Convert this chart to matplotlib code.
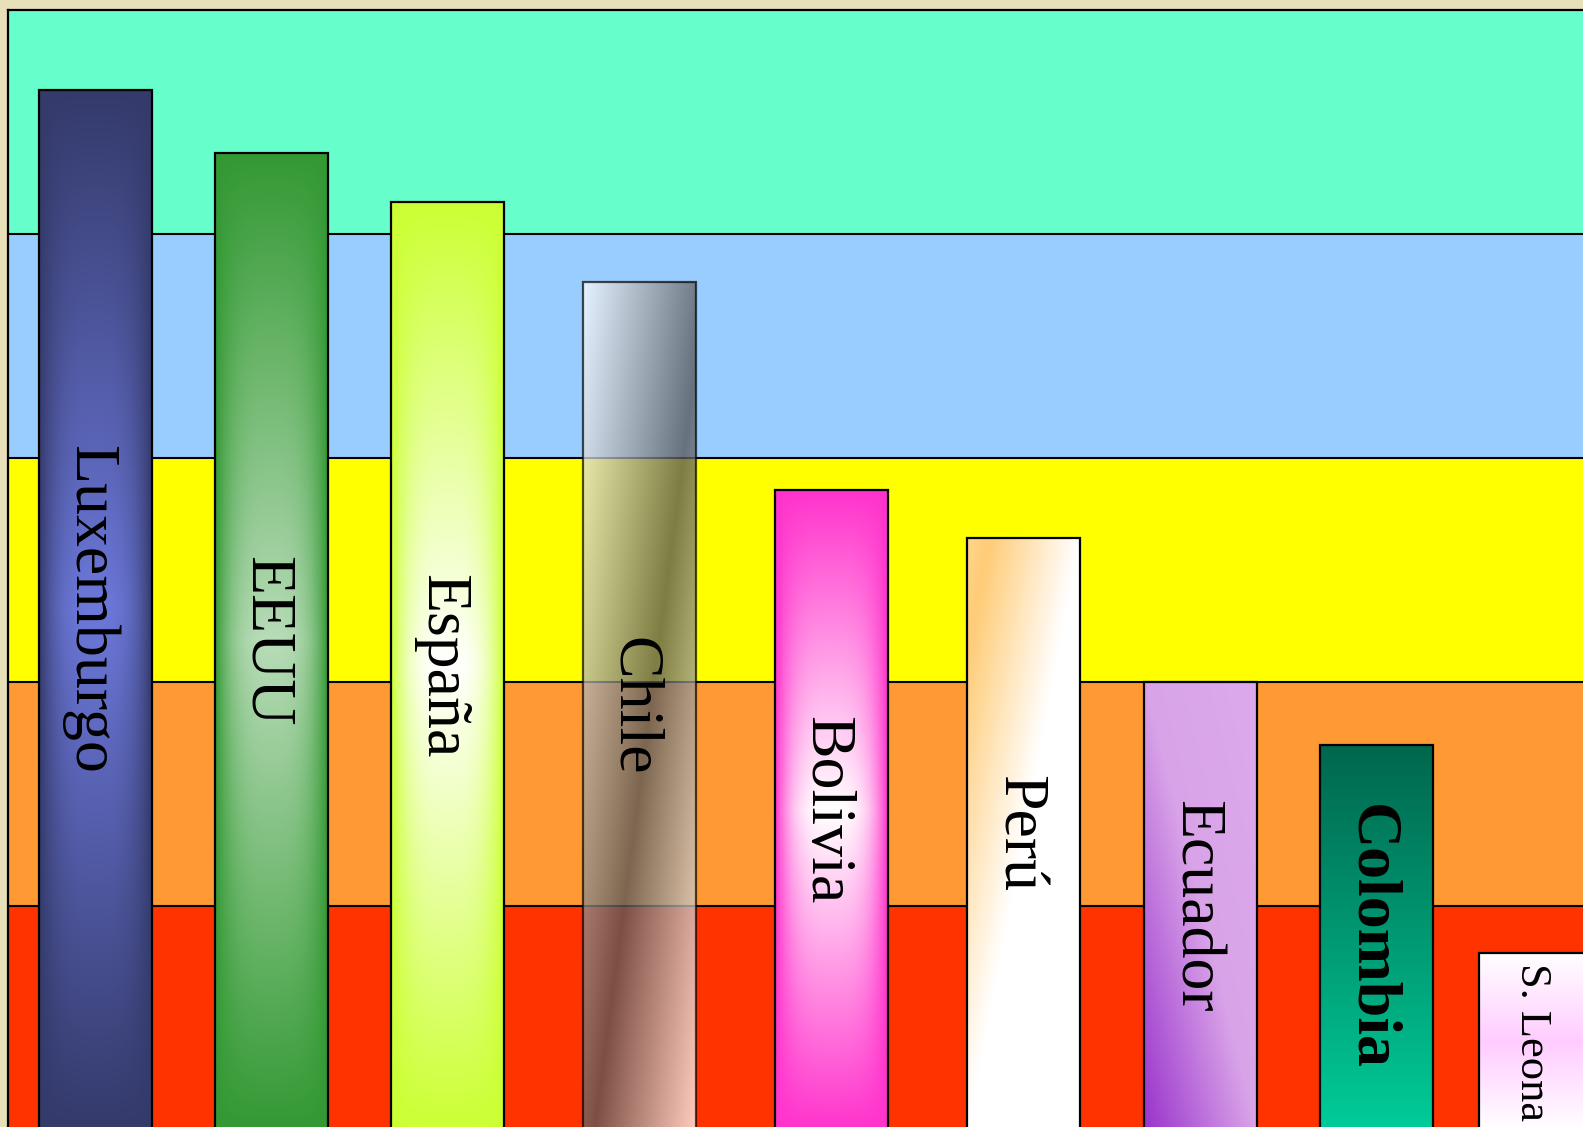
import numpy as np
import matplotlib
matplotlib.use('Agg')
import matplotlib.pyplot as plt
from matplotlib.colors import to_rgb
from matplotlib.transforms import offset_copy

# Datos
paises = ['Luxemburgo', 'EEUU', 'España', 'Chile', 'Bolivia', 'Perú', 'Ecuador', 'Colombia', 'S. Leona']
valores = [92.9, 87.2, 82.9, 75.7, 57.1, 52.9, 40.0, 34.4, 15.8]

# Franjas de fondo (de abajo hacia arriba)
franjas = [0, 20, 40, 60, 80, 100]
colores_franja = ['#ff3300', '#ff9933', '#ffff00', '#99ccff', '#66ffcc']

# Posición horizontal de cada barra (unidades del eje)
bar_x = [87.5, 263.5, 439.5, 631.5, 823.5, 1015.5, 1192.5, 1368.5, 1527.5]
ancho = 113

fig = plt.figure(figsize=(15.83, 11.27), dpi=100, facecolor='#e8e0b8')
ax = fig.add_axes([8 / 1583, -3 / 1127, 1600 / 1583, 1120 / 1127])
ax.set_xlim(0, 1600)
ax.set_ylim(0, 100)
ax.set_xticks([])
ax.set_yticks([])
for s in ax.spines.values():
    s.set_linewidth(1.6)
    s.set_zorder(10)

for i in range(len(colores_franja)):
    ax.axhspan(franjas[i], franjas[i + 1], facecolor=colores_franja[i], edgecolor='none', zorder=0)
for yb in franjas[1:-1]:
    ax.axhline(yb, color='black', lw=1.5, zorder=1)

NX, NY = 120, 600
X, Y = np.meshgrid(np.linspace(0, 1, NX), np.linspace(0, 1, NY))  # Y = 0 arriba


def rgba(c, a=1.0):
    return np.array(list(to_rgb(c)) + [a])


def paradas(t, stops):
    # interpolación lineal de colores RGBA según t
    pos = np.array([s[0] for s in stops])
    cols = np.array([s[1] for s in stops])
    out = np.empty(t.shape + (4,))
    for k in range(4):
        out[..., k] = np.interp(t, pos, cols[:, k])
    return out


def reloj(borde, centro):
    h = 1 - np.abs(2 * X - 1) ** 3
    v = 1 - np.abs(2 * Y - 1)
    w = (h * v)[..., None]
    e, c = rgba(borde), rgba(centro)
    return e + (c - e) * w


gradientes = {
    'Luxemburgo': reloj('#343a6a', '#6c78da'),
    'EEUU': reloj('#339933', '#b8dcb8'),
    'España': reloj('#ccff33', '#ffffff'),
    'Chile': paradas((X + Y) / 2, [(0, rgba('#ffffff', 0.75)), (0.55, rgba('#585858', 0.78)),
                                   (1, rgba('#ffffff', 0.75))]),
    'Bolivia': reloj('#ff33cc', '#ffffff'),
    'Perú': paradas((X + Y) / 2, [(0, rgba('#ffd68c')), (0.1, rgba('#ffcc77')),
                                  (0.5, rgba('#ffffff')), (1, rgba('#ffffff'))]),
    'Ecuador': paradas((X + (1 - Y)) / 2, [(0, rgba('#9933cc')), (0.5, rgba('#d9a3e8')),
                                           (1, rgba('#dcaaec'))]),
    'Colombia': paradas(Y, [(0, rgba('#00664c')), (1, rgba('#00cc99'))]),
    'S. Leona': paradas(Y, [(0, rgba('#ffffff')), (0.5, rgba('#ffccff')), (1, rgba('#ffffff'))]),
}

barras = ax.bar(bar_x, valores, width=ancho, facecolor='none', edgecolor='black',
                linewidth=1.6, zorder=3)

for p, pais in zip(barras.patches, paises):
    x0, w, h = p.get_x(), p.get_width(), p.get_height()
    ax.imshow(gradientes[pais], extent=(x0, x0 + w, 0, h), origin='upper',
              aspect='auto', interpolation='bilinear', zorder=2)
    if pais == 'Chile':
        p.set_edgecolor((0, 0, 0, 0.7))

    grande = pais != 'S. Leona'
    fs = 46 if grande else 32
    peso = 'bold' if pais == 'Colombia' else 'normal'
    # el texto queda centrado sobre la altura de las mayúsculas
    tr = offset_copy(ax.transData, fig=fig, x=-0.331 * fs, y=0, units='points')
    ax.text(x0 + w / 2, h / 2, pais, transform=tr, rotation=-90, rotation_mode='anchor',
            ha='center', va='baseline', fontsize=fs, fontweight=peso,
            family='Liberation Serif', color='black', zorder=4)

ax.set_xlim(0, 1600)
ax.set_ylim(0, 100)

fig.savefig('out.png', dpi=100, facecolor=fig.get_facecolor())
